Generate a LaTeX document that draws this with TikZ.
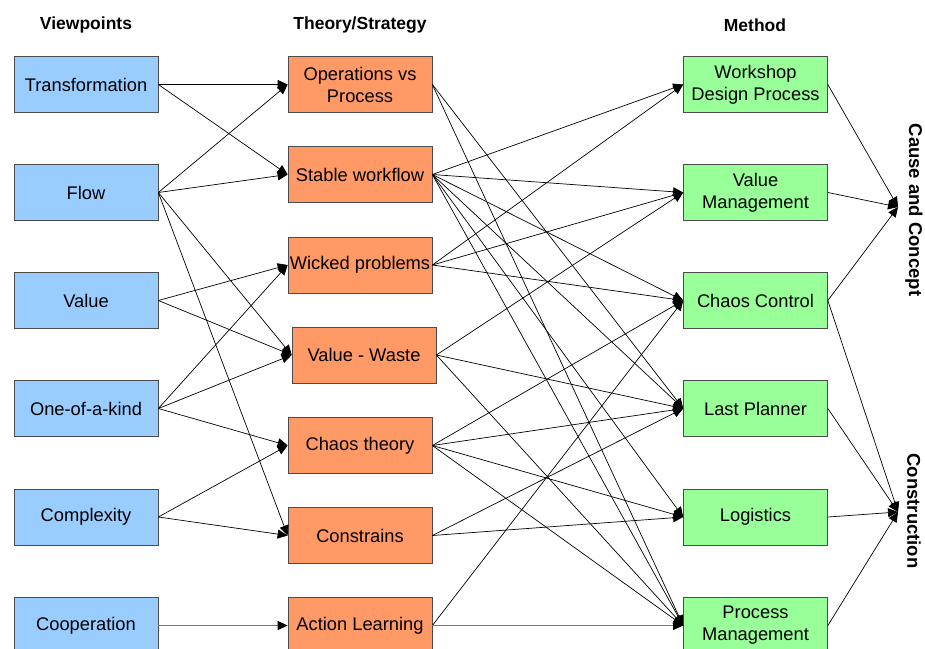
\documentclass[tikz,border=0pt]{standalone}
\usepackage{fontspec}
\setmainfont{Liberation Sans}
\usetikzlibrary{arrows.meta}
\definecolor{vpblue}{RGB}{153,204,255}
\definecolor{thorange}{RGB}{255,153,102}
\definecolor{megreen}{RGB}{153,255,153}
\definecolor{edgegray}{RGB}{120,120,120}
\begin{document}
\begin{tikzpicture}[x=1pt,y=-1pt,
  box/.style={draw=black!70, line width=0.7pt, minimum width=144pt, minimum height=56pt, inner sep=0pt, align=center, font=\fontsize{18.3}{22}\selectfont},
  vp/.style={box, fill=vpblue},
  th/.style={box, fill=thorange},
  me/.style={box, fill=megreen},
  title/.style={font=\fontsize{17.5}{20}\selectfont\bfseries},
  conn/.style={line width=0.7pt, -{Triangle[length=10pt,width=9pt,black]}},
  gconn/.style={conn, draw=edgegray}
]
\useasboundingbox (0,0) rectangle (925,648);
\clip (0,0) rectangle (925,648);

% titles
\node[title] (t1) at (86,25) {Viewpoints};
\node[title] (t2) at (360,25) {Theory/Strategy};
\node[title] (t3) at (755,25) {Method};

% viewpoints
\node[vp] (tr)   at (86,84.5)  {Transformation};
\node[vp] (flow) at (86,192.5) {Flow};
\node[vp] (val)  at (86,300.5) {Value};
\node[vp] (one)  at (86,408.5) {One-of-a-kind};
\node[vp] (comp) at (86,517) {Complexity};
\node[vp] (coop) at (86,625.5) {Cooperation};

% theory / strategy
\node[th] (ops)   at (360,84.5)  {Operations vs\\Process};
\node[th] (stab)  at (360,174.5) {Stable workflow};
\node[th] (wick)  at (360,265) {Wicked problems};
\node[th] (vw)    at (364,355) {Value - Waste};
\node[th] (chaos) at (360,445.5) {Chaos theory};
\node[th] (cons)  at (360,535.5) {Constrains};
\node[th] (act)   at (360,625.5) {Action Learning};

% methods
\node[me] (ws)  at (755.5,84.5)  {Workshop\\Design Process};
\node[me] (vm)  at (755.5,192.5) {Value\\Management};
\node[me] (cc)  at (755.5,300.5) {Chaos Control};
\node[me] (lp)  at (755.5,408.5) {Last Planner};
\node[me] (log) at (755.5,517) {Logistics};
\node[me] (pm)  at (755.5,625.5) {Process\\Management};

% outcomes
\coordinate (cac) at (898,207);
\coordinate (con) at (898,512);
\node[title, font=\fontsize{18.5}{20}\selectfont\bfseries, rotate=-90] (caclabel) at (914,210) {Cause and Concept};
\node[title, font=\fontsize{18.5}{20}\selectfont\bfseries, rotate=-90] (conlabel) at (914,511) {Construction};

% viewpoints -> theory
\draw[conn] (tr.east) -- (ops.west);
\draw[conn] (tr.east) -- (stab.west);
\draw[conn] (flow.east) -- (ops.west);
\draw[conn] (flow.east) -- (stab.west);
\draw[conn] (flow.east) -- (vw.west);
\draw[conn] (flow.east) -- (cons.west);
\draw[conn] (val.east) -- (wick.west);
\draw[conn] (val.east) -- (vw.west);
\draw[conn] (one.east) -- (wick.west);
\draw[conn] (one.east) -- (vw.west);
\draw[conn] (one.east) -- (chaos.west);
\draw[conn] (comp.east) -- (chaos.west);
\draw[conn] (comp.east) -- (cons.west);
\draw[gconn] (coop.east) -- (act.west);

% theory -> method
\draw[conn] (ops.east) -- (lp.west);
\draw[conn] (ops.east) -- (pm.west);
\draw[conn] (stab.east) -- (ws.west);
\draw[conn] (stab.east) -- (vm.west);
\draw[conn] (stab.east) -- (cc.west);
\draw[conn] (stab.east) -- (lp.west);
\draw[conn] (stab.east) -- (log.west);
\draw[conn] (stab.east) -- (pm.west);
\draw[conn] (wick.east) -- (ws.west);
\draw[conn] (wick.east) -- (vm.west);
\draw[conn] (wick.east) -- (cc.west);
\draw[conn] (vw.east) -- (vm.west);
\draw[conn] (vw.east) -- (lp.west);
\draw[conn] (vw.east) -- (pm.west);
\draw[conn] (chaos.east) -- (cc.west);
\draw[conn] (chaos.east) -- (lp.west);
\draw[conn] (chaos.east) -- (log.west);
\draw[conn] (chaos.east) -- (pm.west);
\draw[conn] (cons.east) -- (lp.west);
\draw[conn] (cons.east) -- (log.west);
\draw[conn] (act.east) -- (cc.west);
\draw[gconn] (act.east) -- (pm.west);

% method -> outcome
\draw[conn] (ws.east) -- (cac);
\draw[conn] (vm.east) -- (cac);
\draw[conn] (cc.east) -- (cac);
\draw[conn] (cc.east) -- (con);
\draw[conn] (lp.east) -- (con);
\draw[conn] (log.east) -- (con);
\draw[conn] (pm.east) -- (con);
\end{tikzpicture}
\end{document}
